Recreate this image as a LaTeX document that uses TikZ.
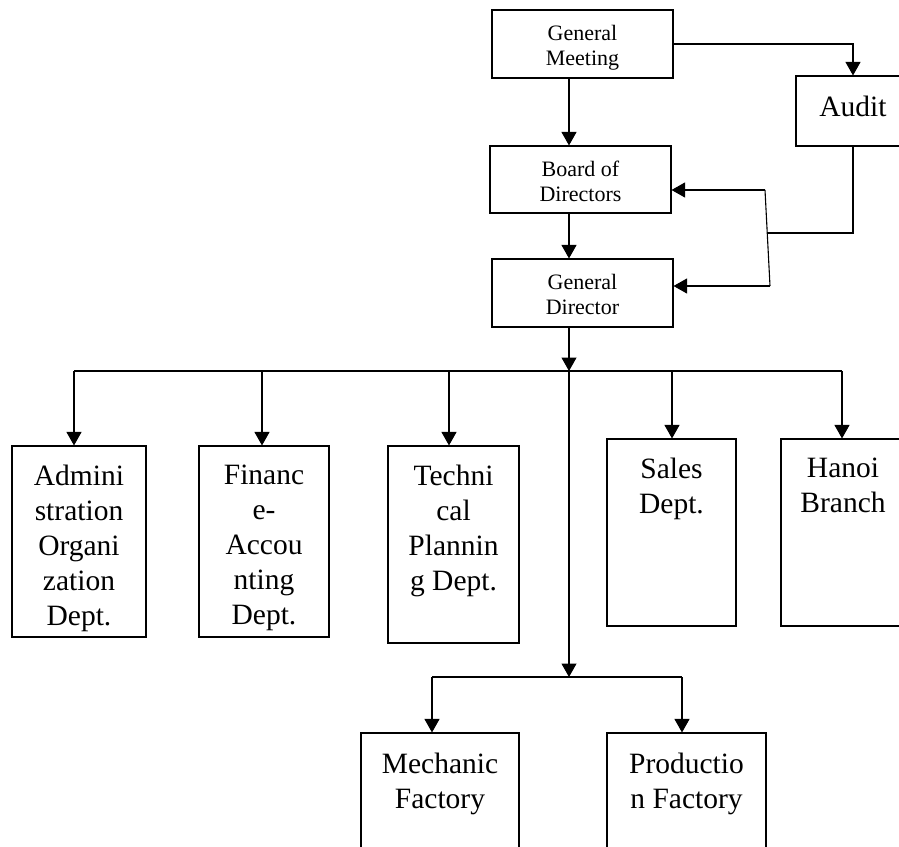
\documentclass[tikz,border=0pt]{standalone}
\usepackage{fontspec}
\setmainfont{Liberation Serif}
\usepackage{tikz}
\usetikzlibrary{arrows.meta,positioning,calc}

\begin{document}
\begin{tikzpicture}[
    x=1pt, y=-1pt,
    box/.style={rectangle, draw, line width=1.1pt, inner sep=0pt},
    big/.style={font=\fontsize{29.5}{35}\selectfont, align=center, inner sep=0pt, anchor=north, yshift=-19pt},
    small/.style={font=\fontsize{22}{25}\selectfont, align=center, inner sep=0pt, anchor=north, yshift=-15.5pt},
    arrow/.style={-{Triangle[width=15pt,length=13.5pt]}, line width=1.1pt},
    line/.style={line width=1.1pt}
]

% Page
\useasboundingbox (0,0) rectangle (899,846);
\clip (0,0) rectangle (899,846);

% Top management
\node[box, minimum width=181pt, minimum height=68pt, label={[small]north:General\\Meeting}] (meeting) at (582.5,44) {};
\node[box, minimum width=181pt, minimum height=67pt, label={[small]north:Board of\\Directors}] (board) at (580.5,179.5) {};
\node[box, minimum width=181pt, minimum height=68pt, label={[small]north:General\\Director}] (director) at (582.5,293) {};
\node[box, minimum width=114pt, minimum height=70pt, label={[big, yshift=-1.5pt]north:Audit}] (audit) at (853,111) {};

% Departments
\node[box, minimum width=134pt, minimum height=191pt, label={[big]north:Admini\\stration\\Organi\\zation\\Dept.}] (admin) at (79,541.5) {};
\node[box, minimum width=130pt, minimum height=191pt, label={[big]north:Financ\\e-\\Accou\\nting\\Dept.}] (finance) at (264,541.5) {};
\node[box, minimum width=131pt, minimum height=197pt, label={[big]north:Techni\\cal\\Plannin\\g Dept.}] (technical) at (453.5,544.5) {};
\node[box, minimum width=129pt, minimum height=187pt, label={[big]north:Sales\\Dept.}] (sales) at (671.5,532.5) {};
\node[box, minimum width=124pt, minimum height=187pt, label={[big]north:Hanoi\\Branch}] (hanoi) at (843,532.5) {};

% Factories
\node[box, minimum width=158pt, minimum height=147pt, label={[big, yshift=-1pt]north:Mechanic\\Factory}] (mechanic) at (440,806.5) {};
\node[box, minimum width=159pt, minimum height=147pt, label={[big, yshift=-1pt]north:Productio\\n Factory}] (production) at (686.5,806.5) {};

% Junctions
\coordinate (bus) at (569,371);
\coordinate (lowbus) at (569,677);
\coordinate (jtop) at (765,190);
\coordinate (jmid) at (767.5,233);
\coordinate (jbot) at (770,286);

% Arrows
\draw[arrow] (meeting.south -| bus) -- (board.north -| bus);
\draw[arrow] (board.south -| bus) -- (director.north -| bus);
\draw[arrow] (meeting.east) -| (audit.north);
\draw[line] (audit.south) |- (jmid);
\draw[line] (jtop) -- (jbot);
\draw[arrow] (jtop) -- (jtop -| board.east);
\draw[arrow] (jbot) -- (jbot -| director.east);
\draw[arrow] (director.south -| bus) -- (bus);
\draw[line] (74,0 |- bus) -- (842,0 |- bus);
\foreach \n/\x in {admin/74, finance/262, technical/449, sales/672, hanoi/842}
    \draw[arrow] (\x,0 |- bus) -- (\x,0 |- \n.north);
\draw[arrow] (bus) -- (lowbus);
\draw[line] (432,0 |- lowbus) -- (682,0 |- lowbus);
\draw[arrow] (432,0 |- lowbus) -- (432,0 |- mechanic.north);
\draw[arrow] (682,0 |- lowbus) -- (682,0 |- production.north);

\end{tikzpicture}
\end{document}
